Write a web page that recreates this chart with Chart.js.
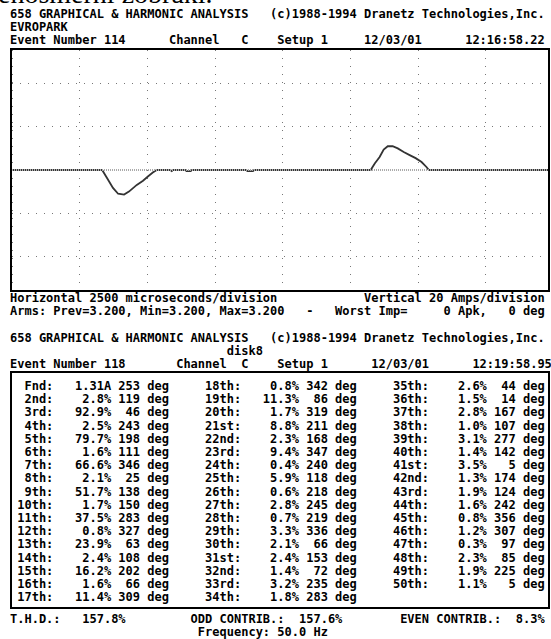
<!DOCTYPE html>
<html>
<head>
<meta charset="utf-8">
<script src="https://cdn.jsdelivr.net/npm/chart.js@4.4.1/dist/chart.umd.min.js"></script>
<style>
body { margin: 0; background: #fff; width: 551px; height: 639px; overflow: hidden; position: relative; }
pre { position: absolute; left: 10px; margin: 0; font-family: "DejaVu Sans Mono", monospace; font-weight: bold; font-size: 12px; line-height: 13px; color: #000; }
.box { position: absolute; left: 10px; width: 536px; border: 2px solid #000; }
#cut { position: absolute; left: -2px; top: -20px; font-family: "Liberation Serif", serif; font-size: 28px; line-height: 28px; }
</style>
</head>
<body>
<div id="cut">enosmerni zobraki.</div>
<pre id="head1" style="top:8px"></pre>
<div class="box" style="top:48px;height:240px"><canvas id="chart" width="536" height="240"></canvas></div>
<pre id="foot1" style="top:292px"></pre>
<pre id="head2" style="top:332px"></pre>
<div class="box" style="top:371px;height:234px"><pre id="table" style="left:-2px;top:7px;line-height:13.2px"></pre></div>
<pre id="foot2" style="top:613px"></pre>
<script>
// waveform, time in ms (2500 us per division), current in A
const waveTimes = [0, 3.33, 3.51, 3.73, 3.92, 4.14, 4.32, 4.61, 4.84, 5.02, 5.2, 5.35, 5.85, 5.9, 5.95, 6.4, 6.45, 6.6, 6.65, 8.65, 8.7, 8.9, 8.95,
	13.25, 13.4, 13.58, 13.73, 13.88, 14.06, 14.25, 14.47, 14.69, 14.91, 15.13, 15.31, 15.4, 19.8]
const waveAmps = [0, 0, -3.7, -8.3, -11, -11.4, -10, -6.9, -5, -3, -1.2, 0, 0, -0.5, 0, 0, -0.5, -0.5, 0, 0, -0.5, -0.5, 0,
	0, 3, 6, 9.5, 11, 11, 10, 8.3, 6.9, 5.5, 3.7, 1.4, 0, 0]

// harmonics table: order labels, magnitude, phase
const harmLabels = ["Fnd", "2nd", "3rd", "4th", "5th", "6th", "7th", "8th", "9th", "10th", "11th", "12th", "13th", "14th", "15th", "16th", "17th",
	"18th", "19th", "20th", "21st", "22nd", "23rd", "24th", "25th", "26th", "27th", "28th", "29th", "30th", "31st", "32nd", "33rd", "34th",
	"35th", "36th", "37th", "38th", "39th", "40th", "41st", "42nd", "43rd", "44th", "45th", "46th", "47th", "48th", "49th", "50th"]
const harmValues = ["1.31A", "2.8%", "92.9%", "2.5%", "79.7%", "1.6%", "66.6%", "2.1%", "51.7%", "1.7%", "37.5%", "0.8%", "23.9%", "2.4%", "16.2%", "1.6%", "11.4%",
	"0.8%", "11.3%", "1.7%", "8.8%", "2.3%", "9.4%", "0.4%", "5.9%", "0.6%", "2.8%", "0.7%", "3.3%", "2.1%", "2.4%", "1.4%", "3.2%", "1.8%",
	"2.6%", "1.5%", "2.8%", "1.0%", "3.1%", "1.4%", "3.5%", "1.3%", "1.9%", "1.6%", "0.8%", "1.2%", "0.3%", "2.3%", "1.9%", "1.1%"]
const harmPhases = [253, 119, 46, 243, 198, 111, 346, 25, 138, 150, 283, 327, 63, 108, 202, 66, 309,
	342, 86, 319, 211, 168, 347, 240, 118, 218, 245, 219, 336, 66, 153, 72, 235, 283,
	44, 14, 167, 107, 277, 142, 5, 174, 124, 242, 356, 307, 97, 85, 225, 5]

function pad(s, n) {
	s = String(s)
	while(s.length < n) s = " " + s
	return s
}

document.getElementById("head1").textContent =
	"658 GRAPHICAL & HARMONIC ANALYSIS   (c)1988-1994 Dranetz Technologies,Inc.\n" +
	"EVROPARK\n" +
	"Event Number 114      Channel   C    Setup 1     12/03/01      12:16:58.22"
document.getElementById("foot1").textContent =
	"Horizontal 2500 microseconds/division            Vertical 20 Amps/division\n" +
	"Arms: Prev=3.200, Min=3.200, Max=3.200   -   Worst Imp=     0 Apk,   0 deg"
document.getElementById("head2").textContent =
	"658 GRAPHICAL & HARMONIC ANALYSIS   (c)1988-1994 Dranetz Technologies,Inc.\n" +
	"                              disk8\n" +
	"Event Number 118       Channel  C    Setup 1      12/03/01      12:19:58.95"
document.getElementById("foot2").textContent =
	"T.H.D.:   157.8%         ODD CONTRIB.:  157.6%        EVEN CONTRIB.:  8.3%\n" +
	"                          Frequency: 50.0 Hz"

let rows = []
for(let r = 0; r < 17; r++) {
	let line = " "
	for(let c = 0; c < 3; c++) {
		let i = c * 17 + r
		if(c > 0) line += "     "
		if(i < harmLabels.length) {
			line += pad(harmLabels[i] + ":", 5) + "   " + pad(harmValues[i], 5) + " " + pad(harmPhases[i], 3) + " deg"
		}
	}
	rows.push(line)
}
document.getElementById("table").textContent = rows.join("\n")

let trace = waveTimes.map((t, i) => ({x: t, y: waveAmps[i]}))

new Chart(document.getElementById("chart"), {
	type: "line",
	data: {
		datasets: [{
			data: [{x: 0, y: 0}, {x: 19.8, y: 0}],
			borderColor: "#aaa",
			borderWidth: 2,
			borderDash: [1, 1],
			pointRadius: 0
		}, {
			data: trace,
			borderColor: "#333",
			borderWidth: 1.8,
			pointRadius: 0,
			tension: 0
		}]
	},
	options: {
		responsive: false,
		animation: false,
		layout: { padding: 0 },
		plugins: { legend: { display: false }, tooltip: { enabled: false } },
		scales: {
			x: {
				type: "linear", min: 0, max: 19.8,
				ticks: { display: false, stepSize: 2.5, includeBounds: false },
				grid: { drawTicks: false, color: "#777", lineWidth: 1 },
				border: { display: false, dash: [1, 7] }
			},
			y: {
				min: -55.6, max: 55.6,
				ticks: { display: false, stepSize: 20, includeBounds: false },
				grid: { drawTicks: false, color: "#777", lineWidth: 1 },
				border: { display: false, dash: [1, 7] }
			}
		}
	}
})
</script>
</body>
</html>
